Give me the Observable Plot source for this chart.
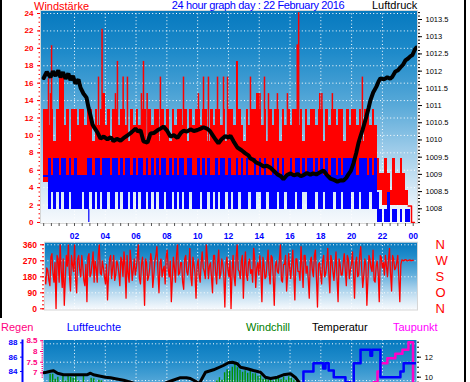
<!DOCTYPE html>
<html>
<head>
<meta charset="utf-8">
<script src="https://cdn.jsdelivr.net/npm/d3@7"></script>
<script src="https://cdn.jsdelivr.net/npm/@observablehq/plot@0.6"></script>
<style>
html,body{margin:0;padding:0;background:#fff;}
#wrap{position:relative;width:470px;height:382px;overflow:hidden;background:#fff;}
#wrap svg{position:absolute;left:0;}
.lbl{position:absolute;font-family:"Liberation Sans",Arial,sans-serif;font-size:11px;line-height:11px;white-space:nowrap;}
.bar{position:absolute;background:#000;}
</style>
</head>
<body>
<div id="wrap"></div>
<script>
// ---------------- DATA ----------------
const hourTicks  = [2,4,6,8,10,12,14,16,18,20,22,24];
const hourLabels = ["02","04","06","08","10","12","14","16","18","20","22","00"];
const windTicks = [0,2,4,6,8,10,12,14,16,18,20,22,24];
const pressureTicks = [1008,1008.5,1009,1009.5,1010,1010.5,1011,1011.5,1012,1012.5,1013,1013.5];
const pressureLabels = ["1008","1008.5","1009","1009.5","1010","1010.5","1011","1011.5","1012","1012.5","1013","1013.5"];
const dirTicks  = [0,90,180,270,360];
const dirLabels = ["N","O","S","W","N"];
const tempTicks = [10,12];
const humTicks  = [84,86,88];
const rainTicks = [7,7.5,8,8.5];
const rainLabels = ["7","7.5","8","8.5"];

// gusts (Windstärke, red) per 10-minute bin: upper value
const gustHi = [
 13,13,11.1,13,9.3,13,
 16.7,16.7,11.1,13,9.3,13,
 13,11.1,13,13,11.1,13,
 13,9.3,13,11.1,13,14.8,
 11.1,13,9.3,13,13,11.1,
 13,13,11.1,9.3,13,11.1,
 13,11.1,13,13,9.3,13,
 11.1,13,13,9.3,13,11.1,
 13,9.3,13,11.1,13,13,
 11.1,13,9.3,13,11.1,13,
 13,11.1,13,13,9.3,13,
 11.1,13,13,11.1,13,9.3,
 13,13,11.1,18.5,13,11.1,
 9.3,13,11.1,13,13,14.8,
 13,11.1,13,9.3,13,11.1,
 13,13,9.3,13,11.1,13,
 11.1,13,13,11.1,13,9.3,
 13,11.1,13,13,11.1,13,
 13,9.3,13,11.1,13,13,
 11.1,13,13,9.3,13,11.1,
 13,13,11.1,13,9.3,13,
 13,11.1,13,11.1,7.4,5.6,
 5.6,7.4,5.6,3.7,7.4,5.6,
 5.6,7.4,5.6,3.7,1.9,1.9
];
// gusts: lower value per hour
const gustLo = [4.6,4.6,3.7,4.6,4.6,4.6,4.6,4.6,4.6,4.6,4.6,4.6,4.6,4.6,4.6,4.6,4.6,4.6,4.6,4.6,4.6,3.7,1.9,1.9];
// single gust peaks
const peakH = [0.31,0.44,0.51,3.56,3.79,4.66,4.79,5.16,5.44,6.35,6.48,6.72,7.58,9.08,10.05,10.38,10.70,11.29,11.68,11.94,13.43,14.05,14.34,14.60,15.18,15.83,16.47,16.56,17.93,18.07,18.75,20.70];
const peakV = [16.5,14.8,20.3,16.7,22.2,14.8,18.5,16.7,16.7,14.8,18.5,14.8,16.7,16.7,14.8,16.7,16.7,16.7,16.7,16.7,16.7,14.8,16.7,14.8,14.8,14.8,20.4,24.1,14.8,14.8,14.8,16.7];
const gustTailH = [23.67,23.89,24.08];
const gustTailV = [1.9,0,0];

// mean wind (blue) per 10-minute bin
const meanHi = [
 5.4,5.4,7.3,5.4,7.3,7.3,
 5.4,7.3,7.3,5.4,7.3,5.4,
 7.3,5.4,5.4,5.4,5.4,7.3,
 7.3,5.4,7.3,7.3,5.4,7.3,
 7.3,7.3,5.4,7.3,7.3,5.4,
 7.3,5.4,7.3,7.3,5.4,7.3,
 5.4,7.3,7.3,5.4,7.3,5.4,
 7.3,5.4,7.3,5.4,7.3,7.3,
 5.4,7.3,5.4,7.3,5.4,7.3,
 7.3,5.4,7.3,7.3,5.4,5.4,
 7.3,5.4,7.3,5.4,7.3,5.4,
 5.4,7.3,5.4,7.3,7.3,5.4,
 7.3,5.4,5.4,7.3,5.4,7.3,
 5.4,7.3,5.4,5.4,7.3,5.4,
 7.3,5.4,7.3,5.4,5.4,7.3,
 5.4,7.3,5.4,7.3,5.4,5.4,
 7.3,5.4,7.3,7.3,5.4,7.3,
 5.4,7.3,7.3,5.4,7.3,5.4,
 7.3,5.4,7.3,5.4,7.3,7.3,
 5.4,7.3,5.4,7.3,7.3,7.3,
 7.3,7.3,5.4,7.3,7.3,7.3,
 5.4,7.3,5.4,7.3,3.5,1.5,
 0,1.5,3.5,0,1.5,1.5,
 0,1.5,0,1.5,1.5,0
];
const meanLo = [
 5.2,5.2,1.5,3.5,1.5,3.5,
 1.5,3.5,1.5,1.5,3.5,1.5,
 1.5,1.5,1.5,3.5,1.5,1.5,
 3.5,1.5,3.5,1.5,3.5,1.5,
 1.5,3.5,1.5,1.5,3.5,1.5,
 3.5,1.5,1.5,3.5,1.5,3.5,
 1.5,3.5,1.5,1.5,3.5,1.5,
 3.5,1.5,3.5,1.5,1.5,3.5,
 1.5,1.5,3.5,1.5,3.5,1.5,
 3.5,1.5,1.5,3.5,1.5,1.5,
 1.5,3.5,1.5,1.5,3.5,1.5,
 3.5,1.5,3.5,1.5,1.5,3.5,
 1.5,3.5,1.5,1.5,3.5,1.5,
 1.5,1.5,3.5,1.5,1.5,3.5,
 3.5,1.5,1.5,3.5,1.5,1.5,
 1.5,3.5,1.5,1.5,3.5,1.5,
 1.5,1.5,3.5,1.5,1.5,3.5,
 3.5,1.5,1.5,1.5,3.5,1.5,
 1.5,3.5,1.5,1.5,1.5,3.5,
 1.5,1.5,3.5,1.5,1.5,1.5,
 3.5,1.5,1.5,3.5,1.5,1.5,
 1.5,3.5,1.5,1.5,0,0,
 0,0,0,0,0,0,
 0,0,0,0,0,0
];
const meanDipH = [2.93];
const meanDipV = [0];

// Luftdruck (hPa)
const pressH = [0,0.2,0.44,0.6,0.77,0.95,1.09,1.25,1.42,1.6,1.74,1.9,2.06,2.16,2.26,2.39,2.58,2.78,2.91,3.04,3.17,3.3,3.49,3.69,3.9,4.14,4.35,4.53,4.75,4.99,5.2,5.44,5.7,5.96,6.12,6.29,6.48,6.74,6.94,7.15,7.39,7.58,7.78,8.0,8.23,8.45,8.69,8.9,9.08,9.3,9.53,9.75,9.99,10.2,10.38,10.64,10.8,10.96,11.15,11.35,11.55,11.8,12.0,12.13,12.33,12.58,12.85,13.1,13.3,13.43,13.62,13.82,14.05,14.27,14.5,14.73,14.95,15.18,15.4,15.57,15.8,16.03,16.25,16.49,16.7,16.88,17.1,17.32,17.5,17.71,17.95,18.17,18.4,18.62,18.85,19.08,19.3,19.47,19.65,19.79,19.95,20.12,20.3,20.44,20.57,20.7,20.83,20.96,21.1,21.22,21.4,21.61,21.75,21.87,22.1,22.32,22.5,22.65,22.84,23.0,23.17,23.33,23.49,23.65,23.81,23.95,24.1,24.2];
const pressV = [1011.80,1011.98,1011.82,1012.0,1011.86,1012.02,1011.82,1011.97,1011.78,1011.93,1011.74,1011.86,1011.64,1011.70,1011.76,1011.52,1011.35,1011.23,1010.94,1010.71,1010.45,1010.35,1010.22,1010.04,1010.10,1010.02,1010.08,1009.97,1010.03,1009.98,1010.06,1010.13,1010.22,1010.33,1010.25,1010.28,1009.96,1009.92,1010.19,1010.20,1010.28,1010.33,1010.39,1010.28,1010.10,1010.14,1010.06,1010.20,1010.27,1010.24,1010.31,1010.26,1010.29,1010.33,1010.37,1010.32,1010.26,1010.15,1010.02,1009.90,1010.02,1010.11,1010.07,1010.12,1009.96,1009.78,1009.70,1009.61,1009.55,1009.46,1009.42,1009.34,1009.30,1009.23,1009.25,1009.19,1009.10,1009.00,1008.95,1008.86,1008.98,1009.03,1008.97,1009.01,1008.95,1008.98,1009.04,1008.99,1009.03,1009.00,1009.06,1009.11,1008.98,1008.88,1008.84,1008.79,1008.83,1008.82,1008.90,1009.00,1009.10,1009.32,1009.62,1009.90,1010.10,1010.28,1010.48,1010.68,1010.92,1011.15,1011.38,1011.55,1011.70,1011.79,1011.76,1011.82,1011.78,1011.84,1011.99,1012.02,1012.11,1012.18,1012.31,1012.36,1012.43,1012.47,1012.62,1012.68];

// Windrichtung (degrees): readings A (every ~8 min) and readings B (in between)
const dirA = [
 205,140,215,130,310,150,0,280,360,120,20,300,360,100,250,
 360,90,300,180,240,130,40,310,200,320,270,150,360,190,230,
 140,50,280,170,300,190,250,130,270,320,60,200,330,160,280,
 230,360,140,290,20,260,180,310,120,270,350,90,280,220,140,
 330,180,40,290,150,360,200,260,110,300,190,340,130,250,60,
 280,150,320,210,360,170,260,90,300,140,330,200,250,10,290,
 180,0,300,130,360,210,270,60,320,160,280,220,340,120,260,
 300,40,250,180,330,140,290,20,270,200,360,150,250,100,310,
 170,330,50,280,210,350,120,300,240,60,290,180,330,10,260,
 140,300,200,340,90,270,160,320,40,250,190,310,130,280,220,
 320,60,290,190,350,120,280,20,300,230,330,150,270,40,290,
 260,300,180,340,100,280,230,300,40,275,270,275,270,275,272
];
const dirB = [
 180,230,160,290,200,260,300,150,220,280,170,240,190,300,210,
 170,280,220,300,160,250,290,180,260,150,230,300,200,270,180,
 250,190,300,230,160,270,200,290,180,240,300,150,260,220,190,
 300,170,250,200,280,160,230,270,190,300,210,260,180,240,290,
 220,270,170,230,300,190,260,150,280,210,250,180,290,200,240,
 190,260,230,170,290,240,180,300,210,260,170,280,190,250,220,
 270,210,180,290,220,170,300,240,190,260,200,150,280,230,190,
 220,290,170,260,200,300,180,240,210,280,160,250,300,190,230,
 250,190,280,210,160,240,300,200,170,270,220,300,180,250,200,
 270,180,250,200,300,210,240,170,280,190,260,220,300,170,250,
 200,260,180,300,220,190,250,170,280,210,160,240,200,300,230,
 190,240,280,200,300,220,260,180,250,272,276,271,274,270,273
];

// Temperatur (°C)
const tempH = [0,0.18,0.44,0.64,0.9,1.29,1.74,2.39,2.84,3.04,3.23,3.69,4.01,4.34,4.66,5.19,5.64,6.29,6.94,7.58,7.97,8.36,8.88,9.27,9.53,9.86,10.1,10.51,11.03,11.67,12.0,12.26,12.58,12.78,13.23,13.62,14.08,14.4,14.73,15.18,15.57,16.03,16.35,16.68,17.32,18,20,22,24.2];
const tempV = [10.45,10.5,10.6,10.65,10.4,10.25,10.25,10.25,10.25,10.4,10.24,10.1,10.0,9.95,9.85,9.7,9.5,9.2,9.0,9.2,9.45,9.67,9.95,9.95,9.87,9.6,9.35,10.5,10.74,11.17,11.44,11.5,11.34,11.0,10.84,10.67,10.5,10.0,9.87,10.0,10.24,10.34,9.97,9.3,8.8,8.6,8.4,8.3,8.3];
// Windchill per 10-minute bin
const chill = [
 9.2,9.3,10.3,10.3,9.8,10.0,
 9.5,10.2,9.6,10.1,10.0,9.9,
 10.1,9.6,9.4,10.15,9.4,9.5,
 9.9,9.85,9.3,9.7,9.65,9.3,
 9,9,9,9,9,9, 9,9,9,9,9,9, 9,9,9,9,9,9, 9,9,9,9,9,9,
 9,9,9,9,9,9, 9,9,9,9,9,9, 9,9,9,9,9,9,
 9.3,9.65,9.95,9.7,10.45,10.75,
 10.6,11.0,11.35,10.95,10.7,10.5,
 10.65,10.4,10.6,10.35,10.35,10.1,
 10.15,9.8,9.85,9.7,9.85,9.6,
 9.85,10.05,9.75,10.0,9.7,10.05,
 9.9,9.7,9.55,9.3,9.1,9.0,
 9,9,9,9,9,9, 9,9,9,9,9,9, 9,9,9,9,9,9, 9,9,9,9,9,9,
 9,9,9,9,9,9, 9,9,9,9,9,9, 9,9,9,9,9,9
];
// Luftfeuchte (%)
const humH = [0,16.87,17.52,18.15,18.3,18.51,18.84,19.6,19.92,20.14,20.58,21.22,21.33,21.87,23.17,23.38,24.3];
const humV = [80,84.0,85.16,84.4,85.16,84.14,83.2,82.5,81,85.16,87.02,86.2,87.02,83.2,84.0,85.16,85.16];
// Taupunkt (°C)
const dewH = [0,21.42,21.68,21.87,22.32,22.84,23.3,23.69,23.99,24.3];
const dewV = [8.0,9.5,10.57,11.4,11.9,12.34,12.74,13.5,8.0,8.0];

// ---------------- LAYOUT ----------------
const wrap = document.getElementById("wrap");
const svgNS = "http://www.w3.org/2000/svg";
const SKY = [[0,"#0679bf"],[0.2,"#1f8bca"],[0.45,"#5aaad9"],[0.65,"#9ccbe9"],[0.82,"#cfe5f4"],[0.95,"#eef5fb"],[1,"#f7fafd"]];
function skyDefs(id) {
  return () => {
    const defs = document.createElementNS(svgNS, "defs");
    const g = document.createElementNS(svgNS, "linearGradient");
    g.setAttribute("id", id);
    g.setAttribute("x1", "0"); g.setAttribute("y1", "0"); g.setAttribute("x2", "0"); g.setAttribute("y2", "1");
    for (const [o, c] of SKY) {
      const s = document.createElementNS(svgNS, "stop");
      s.setAttribute("offset", o); s.setAttribute("stop-color", c);
      g.appendChild(s);
    }
    defs.appendChild(g);
    return defs;
  };
}
const XL = 43.2, PPH = 15.396;
const hdom = (l, r) => [(l - XL) / PPH, (r - XL) / PPH];
const base = {width: 470, style: {background: "transparent", overflow: "visible", fontFamily: "'Liberation Sans', Arial, sans-serif"}};
function place(svg, top) { svg.style.top = top + "px"; wrap.appendChild(svg); }
const dots = {stroke: "white", strokeOpacity: 1, strokeWidth: 1, strokeDasharray: "1,2.4"};
const bins = d3.range(gustHi.length);
const binW = 1 / 6;
const blank = () => "";

// direction readings interleaved in time order
const dirIdx = d3.range(dirA.length * 2);
const dirStep = 24 / (dirA.length * 2 - 1);
const dirVal = i => (i % 2 === 0 ? dirA[i >> 1] : dirB[i >> 1]);

// ---- top panel: wind ----
const topOpts = {...base, height: 242, marginTop: 10, marginBottom: 19, marginLeft: 40, marginRight: 53,
  x: {domain: hdom(40, 417), axis: null}};
place(Plot.plot({...topOpts,
  y: {domain: [-0.115, 24.345], axis: null},
  marks: [
    skyDefs("skyTop"),
    Plot.frame({fill: "url(#skyTop)"}),
    Plot.gridY({ticks: windTicks, ...dots}),
    Plot.gridX({ticks: hourTicks.slice(0, -1), ...dots}),
    Plot.rect(bins, {x1: i => i * binW, x2: i => (i + 1) * binW, y1: i => gustLo[Math.floor(i / 6)], y2: i => gustHi[i], fill: "#ff0000", shapeRendering: "crispEdges", clip: true}),
    Plot.ruleX(d3.range(peakH.length), {x: i => peakH[i], y1: 5.6, y2: i => peakV[i], stroke: "#ff0000", strokeWidth: 1.5, clip: true}),
    Plot.line(d3.range(gustTailH.length), {x: i => gustTailH[i], y: i => gustTailV[i], curve: "step-after", stroke: "#ff0000", strokeWidth: 1.5, clip: true}),
    Plot.rect(bins, {x1: i => i * binW, x2: i => (i + 1) * binW, y1: i => meanLo[i], y2: i => meanHi[i], fill: "#0000ff", shapeRendering: "crispEdges", clip: true}),
    Plot.ruleX(d3.range(meanDipH.length), {x: i => meanDipH[i], y1: i => meanDipV[i], y2: 1.5, stroke: "#0000ff", strokeWidth: 1.2, clip: true}),
    Plot.frame({stroke: "#d6d6d6"}),
    Plot.axisY({ticks: windTicks, tickSize: 3, tickPadding: 4, color: "#ff0000", fontSize: 8, fontWeight: "bold", label: null}),
    Plot.axisY({ticks: d3.range(0, 24.01, 0.5), tickSize: 1.5, tickFormat: blank, color: "#ff0000", label: null}),
    Plot.axisX({ticks: hourTicks, tickSize: 0, tickPadding: 9, tickFormat: d => hourLabels[hourTicks.indexOf(d)], color: "#0000ff", fontSize: 8.5, fontWeight: "bold", label: null}),
    Plot.axisX({ticks: d3.range(0, 24.01, 0.5), tickSize: 3, tickFormat: blank, color: "#555", label: null})
  ]}), 0);

// ---- top panel overlay: pressure ----
place(Plot.plot({...topOpts,
  y: {domain: [1007.573, 1013.7615], axis: null},
  marks: [
    Plot.line(d3.range(pressH.length), {x: i => pressH[i], y: i => pressV[i], stroke: "#000", strokeWidth: 4, strokeLinejoin: "miter", clip: true}),
    Plot.axisY({anchor: "right", ticks: pressureTicks, tickSize: 4, tickPadding: 4, tickFormat: d => pressureLabels[pressureTicks.indexOf(d)], color: "#000", fontSize: 7.5, label: null}),
    Plot.axisY({anchor: "right", ticks: d3.range(1007.6, 1013.75, 0.1), tickSize: 2, tickFormat: blank, color: "#000", label: null})
  ]}), 0);

// ---- middle panel: wind direction ----
place(Plot.plot({...base, height: 76, marginTop: 3.7, marginBottom: 4.5, marginLeft: 44, marginRight: 53,
  x: {domain: hdom(44, 417), axis: null},
  y: {domain: [-6.75, 374.6], axis: null},
  marks: [
    skyDefs("skyMid"),
    Plot.frame({fill: "url(#skyMid)"}),
    Plot.gridY({ticks: dirTicks, ...dots}),
    Plot.gridX({ticks: hourTicks.slice(0, -1), ...dots}),
    Plot.line(dirIdx, {x: i => i * dirStep, y: dirVal, stroke: "#ff0000", strokeWidth: 1.3, clip: true}),
    Plot.frame({stroke: "#d6d6d6"}),
    Plot.axisY({ticks: dirTicks, tickSize: 4, tickPadding: 3.5, color: "#ff0000", fontSize: 8.5, fontWeight: "bold", label: null}),
    Plot.axisY({ticks: d3.range(0, 361, 22.5), tickSize: 2, tickFormat: blank, color: "#ff0000", label: null}),
    Plot.axisY({anchor: "right", ticks: dirTicks, tickSize: 0, tickPadding: 18, tickFormat: d => dirLabels[dirTicks.indexOf(d)], color: "#ff0000", fontSize: 13, label: null})
  ]}), 238);

// ---- bottom panel ----
const botTop = 339;
const botOpts = {...base, height: 110, marginTop: 0.5, marginBottom: 10, marginLeft: 43, marginRight: 54,
  x: {domain: hdom(43, 416), axis: null}};
const tempDom = [3.77, 13.72], humDom = [74.52, 88.39], rainDom = [3.888, 8.537];
place(Plot.plot({...botOpts,
  y: {domain: tempDom, axis: null},
  marks: [
    skyDefs("skyBot"),
    Plot.frame({fill: "url(#skyBot)"}),
    Plot.gridY({ticks: [13.34, 11.5, 9.66, 7.82, 5.98], ...dots}),
    Plot.gridX({ticks: hourTicks.slice(0, -1), ...dots}),
    Plot.ruleX(bins, {x: i => (i + 0.5) * binW, y1: tempDom[0], y2: i => chill[i], stroke: "#009000", strokeWidth: 1.4, clip: true}),
    Plot.line(d3.range(tempH.length), {x: i => tempH[i], y: i => tempV[i], stroke: "#000", strokeWidth: 3, clip: true}),
    Plot.line(d3.range(dewH.length), {x: i => dewH[i], y: i => dewV[i], curve: "step-after", stroke: "#ff00c8", strokeWidth: 2.5, clip: true}),
    Plot.axisY({anchor: "right", ticks: tempTicks, tickSize: 4, tickPadding: 4, color: "#000", fontSize: 7.5, label: null}),
    Plot.axisY({anchor: "right", ticks: d3.range(9.5, 13.6, 0.5), tickSize: 2, tickFormat: blank, color: "#000", label: null})
  ]}), botTop);
// humidity line (own scale)
place(Plot.plot({...botOpts,
  y: {domain: humDom, axis: null},
  marks: [
    Plot.line(d3.range(humH.length), {x: i => humH[i], y: i => humV[i], curve: "step-after", stroke: "#0000ff", strokeWidth: 2.5, clip: true})
  ]}), botTop);
// rain axis
place(Plot.plot({...botOpts,
  y: {domain: rainDom, axis: null},
  marks: [
    Plot.axisY({ticks: rainTicks, tickSize: 3, tickPadding: 3, tickFormat: d => rainLabels[rainTicks.indexOf(d)], color: "#ff0080", fontSize: 8, fontWeight: "bold", label: null}),
    Plot.axisY({ticks: d3.range(6.8, 8.55, 0.1), tickSize: 1.5, tickFormat: blank, color: "#ff0080", label: null})
  ]}), botTop);
// humidity axis
place(Plot.plot({...base, height: 110, marginTop: 0.5, marginBottom: 10, marginLeft: 22, marginRight: 447,
  x: {domain: [0, 1], axis: null},
  y: {domain: humDom, axis: null},
  marks: [
    Plot.ruleX([0], {stroke: "#0000ff", strokeWidth: 2}),
    Plot.axisY({ticks: humTicks, tickSize: 2, tickPadding: 3, color: "#0000ff", fontSize: 8, fontWeight: "bold", label: null})
  ]}), botTop);

// ---- text labels ----
function label(text, left, baseline, color, extra) {
  const d = document.createElement("div");
  d.className = "lbl";
  d.textContent = text;
  d.style.left = left + "px";
  d.style.top = (baseline - 9.31) + "px";
  d.style.color = color;
  if (extra) Object.assign(d.style, extra);
  wrap.appendChild(d);
}
label("Windstärke", 34, 10, "#ff0000");
label("24 hour graph day : 22 February 2016", 171.7, 9, "#0000ff", {letterSpacing: "-0.35px"});
label("Luftdruck", 372, 9, "#000");
label("Regen", 1, 331.7, "#ff0080");
label("Luftfeuchte", 66.7, 331.7, "#0000ff");
label("Windchill", 246, 331.7, "#008000");
label("Temperatur", 312, 331.7, "#000");
label("Taupunkt", 393, 331.7, "#ff00ff");

// frame borders of the picture
const lb = document.createElement("div"); lb.className = "bar";
Object.assign(lb.style, {left: "0px", top: "0px", width: "2px", height: "318px"}); wrap.appendChild(lb);
const rb = document.createElement("div"); rb.className = "bar";
Object.assign(rb.style, {left: "464px", top: "0px", width: "2px", height: "382px"}); wrap.appendChild(rb);
</script>
</body>
</html>
